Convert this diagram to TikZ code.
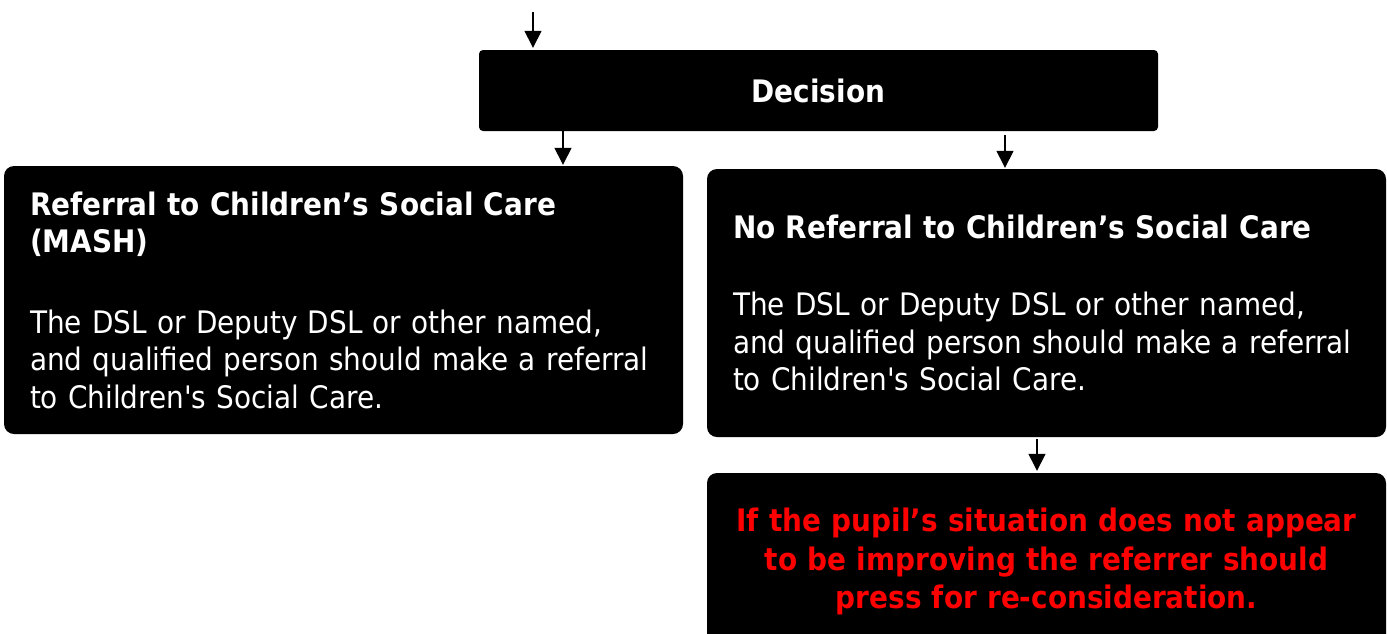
\documentclass[tikz,border=0pt]{standalone}
\usepackage{fontspec}
\setmainfont{DejaVu Sans Condensed}[Ligatures=TeXOff]
\usetikzlibrary{arrows.meta}
\tikzset{
  arr/.style={draw=black, line width=1.4pt, -{Triangle[width=17pt,length=17pt]}},
  bigbox/.style={fill=black, text=white, rounded corners=10pt, inner xsep=26pt, inner ysep=0pt,
    minimum width=679pt, minimum height=268pt, text width=627pt, align=left,
    font=\fontsize{31}{37.5}\selectfont},
  decbox/.style={fill=black, text=white, rounded corners=4pt, minimum width=679pt, minimum height=81pt,
    font=\fontsize{31}{37.5}\selectfont\bfseries},
  redbox/.style={fill=black, text={rgb,255:red,255;green,0;blue,0}, rounded corners=10pt, inner sep=0pt,
    minimum width=679pt, minimum height=177pt, text width=660pt, align=center,
    font=\fontsize{31}{38.3}\selectfont\bfseries}
}
\begin{document}
\begin{tikzpicture}[x=1pt,y=-1pt]
\useasboundingbox[fill=white] (0,0) rectangle (1387,633);
\node[decbox] (dec) at (818.5,90.5) {Decision};
\node[bigbox] (left) at (343.5,300) {\textbf{Referral to Children’s Social Care\\(MASH)}\\[43pt]
The DSL or Deputy DSL or other named,\\and qualified person should make a referral\\to Children's Social Care.};
\node[bigbox] (right) at (1046.5,303) {\textbf{No Referral to Children’s Social Care}\\[40pt]
The DSL or Deputy DSL or other named,\\and qualified person should make a referral\\to Children's Social Care.};
\node[redbox] (red) at (1046.5,561.5) {If the pupil’s situation does not appear\\to be improving the referrer should\\press for re-consideration.};
\coordinate (start) at (533,12);
\draw[arr, shorten >=2pt] (start) -- (start |- dec.north);
\draw[arr, shorten >=1pt] (563,0 |- dec.south) -- (563,0 |- left.north);
\draw[arr, shorten <=4pt, shorten >=1pt] (1005,0 |- dec.south) -- (1005,0 |- right.north);
\draw[arr, shorten <=2pt, shorten >=2pt] (1037,0 |- right.south) -- (1037,0 |- red.north);
\end{tikzpicture}
\end{document}
